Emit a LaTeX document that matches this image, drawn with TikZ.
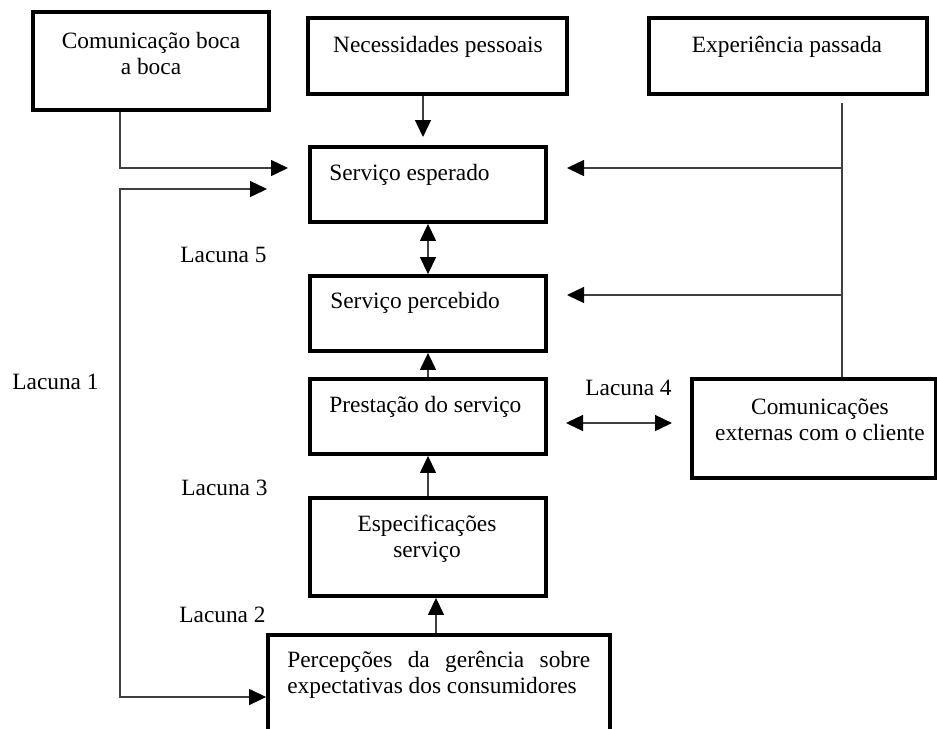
\documentclass[tikz,border=0pt]{standalone}
\usepackage{fontspec}
\setmainfont{Liberation Serif}
\usetikzlibrary{arrows.meta}

\begin{document}
\begin{tikzpicture}[x=0.02cm,y=-0.02cm,
  every node/.style={font=\fontsize{13.3}{14.8}\selectfont},
  box/.style={draw, line width=2.2pt, inner sep=0pt},
  txt/.style={inner sep=0pt},
  con/.style={draw=black!75, line width=0.8pt},
  tip/.style={-{Triangle[length=0.34cm,width=0.32cm,color=black]}},
  tips/.style={{Triangle[length=0.34cm,width=0.32cm,color=black]}-{Triangle[length=0.34cm,width=0.32cm,color=black]}}]
\useasboundingbox (0,0) rectangle (937,728);
% ==================== BOXES ====================
\node[box, minimum width=4.72cm, minimum height=1.96cm] (boca) at (151,61) {};
\node[box, minimum width=5.18cm, minimum height=1.52cm] (nec) at (437.5,56) {};
\node[box, minimum width=5.56cm, minimum height=1.52cm] (exp) at (788,56) {};
\node[box, minimum width=4.72cm, minimum height=1.5cm] (esp) at (428,184.5) {};
\node[box, minimum width=4.72cm, minimum height=1.5cm] (perc) at (428,313.5) {};
\node[box, minimum width=4.72cm, minimum height=1.5cm] (prest) at (428,416.5) {};
\node[box, minimum width=4.72cm, minimum height=1.96cm] (espec) at (428,547) {};
\node[box, minimum width=4.88cm, minimum height=1.98cm] (com) at (814,428.5) {};
\node[box, minimum width=6.84cm, minimum height=2.2cm] (ger) at (439,690) {};
% Box texts (base = last line for the centred ones)
\node[txt, anchor=base, align=center] (bocaT) at (151,74) {Comunicação boca\\a boca};
\node[txt, anchor=base] (necT) at (438,52) {Necessidades pessoais};
\node[txt, anchor=base] (expT) at (787,52) {Experiência passada};
\node[txt, anchor=base west] (espT) at (329,180) {Serviço esperado};
\node[txt, anchor=base west] (percT) at (330,308) {Serviço percebido};
\node[txt, anchor=base west] (prestT) at (329,412) {Prestação do serviço};
\node[txt, anchor=base, align=center] (especT) at (427,557) {Especificações\\serviço};
\node[txt, anchor=base, align=center] (comT) at (820,440) {Comunicações\\externas com o cliente};
\node[txt, anchor=base west, text width=6.06cm, align=justify] (gerT) at (287,667)
  {Percepções da gerência sobre\linebreak expectativas dos consumidores};
% Gap labels
\node[txt, anchor=base west] (lac1) at (12,389) {Lacuna 1};
\node[txt, anchor=base west] (lac2) at (179,622) {Lacuna 2};
\node[txt, anchor=base west] (lac3) at (181,495) {Lacuna 3};
\node[txt, anchor=base west] (lac4) at (585,395) {Lacuna 4};
\node[txt, anchor=base west] (lac5) at (180,262) {Lacuna 5};
% ==================== CONNECTORS ====================
\coordinate (bocaL) at (120,168);
\coordinate (bocaIn) at (288,168);
\coordinate (l1a) at (120,189);
\coordinate (l1b) at (120,697);
\coordinate (l1e) at (267,189);
\coordinate (necIn) at (423,137);
\coordinate (expL) at (842,103);
\coordinate (espIn) at (567,168);
\coordinate (percIn) at (567,295);
\coordinate (l4a) at (566,423);
\coordinate (l4b) at (672,423);
% Left side
\draw[con, tip] (boca.south -| bocaL) -- (bocaL) -- (bocaIn);
\draw[con, tips] (l1e) -- (l1a) -- (l1b) -- (ger.west |- l1b);
\draw[con, tip] (nec.south -| necIn) -- (necIn);
% Right side
\draw[con] (expL) -- (com.north -| expL);
\draw[con, tip] (espIn -| expL) -- (espIn);
\draw[con, tip] (percIn -| expL) -- (percIn);
\draw[con, tips] (l4a) -- (l4b);
% Centre column
\draw[con, tips] (esp.south) -- (perc.north);
\draw[con, tip] (prest.north) -- (perc.south);
\draw[con, tip] (espec.north) -- (prest.south);
\draw[con, tip] ([xshift=-0.06cm]ger.north) -- ([xshift=-0.06cm]ger.north |- espec.south);
\end{tikzpicture}
\end{document}
